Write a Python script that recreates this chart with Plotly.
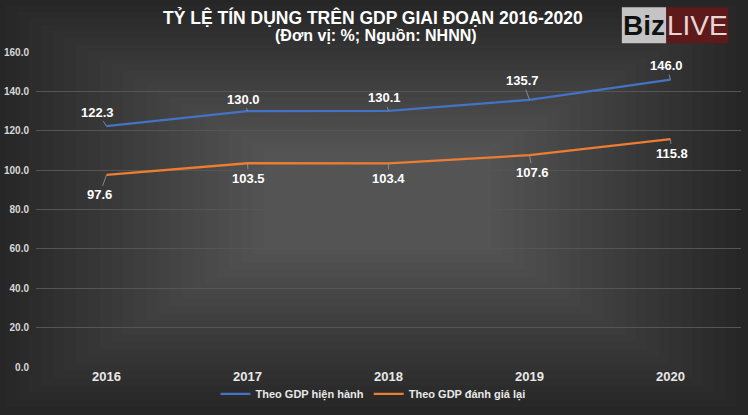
import plotly.graph_objects as go

years = ["2016", "2017", "2018", "2019", "2020"]
gdp_hien_hanh = [122.3, 130.0, 130.1, 135.7, 146.0]
gdp_danh_gia_lai = [97.6, 103.5, 103.4, 107.6, 115.8]
y_ticks = [0, 20, 40, 60, 80, 100, 120, 140, 160]

FONT = "Liberation Sans Narrow, Arial Narrow, Liberation Sans, Arial"

fig = go.Figure()
fig.add_trace(go.Scatter(x=years, y=gdp_hien_hanh, mode="lines", name="Theo GDP hiện hành",
                         line=dict(color="#4472C4", width=2.3)))
fig.add_trace(go.Scatter(x=years, y=gdp_danh_gia_lai, mode="lines", name="Theo GDP đánh giá lại",
                         line=dict(color="#ED7D31", width=2.3)))

# background: dark edges, lighter middle (layered translucent rectangles)
shapes = []
n = 24
for i in range(n):
    f = i / n
    shapes.append(dict(type="rect", xref="paper", yref="paper",
                       x0=-0.06 + f * 0.40, x1=1.01 - f * 0.38,
                       y0=-0.15 + f * 0.55, y1=1.17 - f * 0.50,
                       fillcolor="white", opacity=0.011, line_width=0, layer="below"))
# BizLIVE logo boxes
shapes.append(dict(type="rect", xref="paper", yref="paper", x0=0.831, x1=0.894, y0=1.028, y1=1.142,
                   fillcolor="#c4c4c4", line_width=0, layer="above"))
shapes.append(dict(type="rect", xref="paper", yref="paper", x0=0.894, x1=0.982, y0=1.028, y1=1.142,
                   fillcolor="#5e1a1a", line_width=0, layer="above"))

# data labels with leader lines
off_top = [(-9, -14), (-4, -12), (-4, -13), (-7, -19), (-4, -14)]
off_bot = [(-7, 20), (1, 15), (0, 15), (3, 17), (1, 14)]
annotations = []
for series, offs in ((gdp_hien_hanh, off_top), (gdp_danh_gia_lai, off_bot)):
    for i, (v, (ax, ay)) in enumerate(zip(series, offs)):
        annotations.append(dict(x=i, y=v, xref="x", yref="y", text=f"{v:.1f}",
                                showarrow=True, arrowhead=0, arrowwidth=0.8, arrowcolor="#9a9a9a",
                                ax=ax, ay=ay, standoff=0,
                                font=dict(family=FONT, size=13, color="white", weight="bold")))

def top_text(x, y_px, text, size, color, bold=True, family=FONT):
    return dict(xref="paper", yref="paper", x=x, y=1 + (52 - y_px) / 317, text=text,
                xanchor="center", yanchor="middle", showarrow=False,
                font=dict(family=family, size=size, color=color, weight="bold" if bold else "normal"))

annotations.append(top_text(0.478, 17, "TỶ LỆ TÍN DỤNG TRÊN GDP GIAI ĐOẠN 2016-2020", 17.5, "white"))
annotations.append(top_text(0.482, 35, "(Đơn vị: %; Nguồn: NHNN)", 16, "white"))
annotations.append(top_text(0.862, 25, "Biz", 28, "#111", family="Liberation Sans, Arial"))
annotations.append(top_text(0.938, 25, "LIVE", 28, "#e6d6d6", bold=False, family="Liberation Sans, Arial"))

fig.update_layout(
    width=748, height=415,
    paper_bgcolor="#242424", plot_bgcolor="rgba(0,0,0,0)",
    margin=dict(l=36, r=7, t=52, b=46),
    showlegend=True,
    legend=dict(orientation="h", x=0.478, xanchor="center", y=-0.085, yanchor="middle",
                font=dict(family=FONT, size=11, color="#e8e8e8", weight="bold"),
                bgcolor="rgba(0,0,0,0)", itemwidth=30, tracegroupgap=0),
    xaxis=dict(type="category", range=[-0.5, 4.5], showgrid=False, zeroline=False, showline=False,
               automargin=False, ticks="",
               tickfont=dict(family=FONT, size=13, color="#e8e8e8", weight="bold")),
    yaxis=dict(range=[0, 160], tickvals=y_ticks, ticktext=[f"{t:.1f}" for t in y_ticks],
               gridcolor="#555555", gridwidth=1, zeroline=False, showline=False, ticks="",
               automargin=False, ticklabelstandoff=6,
               tickfont=dict(family=FONT, size=10, color="#d8d8d8", weight="bold")),
    shapes=shapes, annotations=annotations,
)
fig.write_html("out.html", config={"displayModeBar": False},
               post_script="document.body.style.margin='0';")
